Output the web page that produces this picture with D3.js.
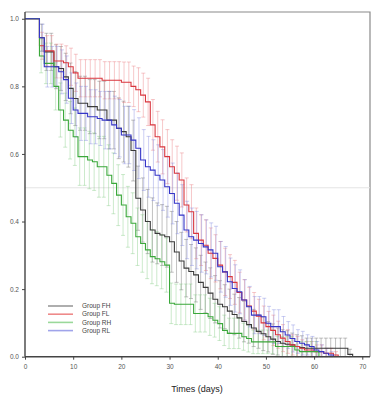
<!DOCTYPE html>
<html>
<head>
<meta charset="utf-8">
<script src="https://cdn.jsdelivr.net/npm/d3@7"></script>
<style>
  body { margin: 0; background: #fff; }
  svg { display: block; font-family: "Liberation Sans", Arial, sans-serif; }
</style>
</head>
<body>
<div id="chart"></div>
<script>
// survival estimates per day (index = day)
const groups = ["Group FH", "Group FL", "Group RH", "Group RL"];

const survFH = [1, 1, 1, 0.944, 0.902, 0.902, 0.858, 0.853, 0.828, 0.794, 0.764, 0.75, 0.75, 0.74, 0.74, 0.73, 0.73, 0.70, 0.70, 0.676,
  0.666, 0.651, 0.61, 0.469, 0.434, 0.40, 0.375, 0.365, 0.36, 0.355, 0.34, 0.31, 0.283, 0.262, 0.252, 0.242, 0.22, 0.205, 0.188, 0.17,
  0.155, 0.148, 0.135, 0.125, 0.115, 0.104, 0.095, 0.085, 0.075, 0.068, 0.059, 0.052, 0.045, 0.04, 0.037, 0.035, 0.03, 0.027, 0.025, 0.025,
  0.025, 0.025, 0.025, 0.025, 0.025, 0.025, 0.025, 0.007, 0];
const survFL = [1, 1, 1, 0.92, 0.905, 0.905, 0.875, 0.875, 0.87, 0.858, 0.84, 0.824, 0.824, 0.824, 0.824, 0.824, 0.818, 0.818, 0.818, 0.818,
  0.812, 0.812, 0.80, 0.79, 0.774, 0.754, 0.686, 0.651, 0.621, 0.592, 0.562, 0.543, 0.523, 0.449, 0.429, 0.365, 0.345, 0.33, 0.306, 0.291,
  0.271, 0.251, 0.237, 0.22, 0.19, 0.168, 0.15, 0.135, 0.12, 0.10, 0.089, 0.078, 0.065, 0.055, 0.045, 0.035, 0.03, 0.025, 0.02, 0.02,
  0.015, 0.015, 0.01, 0.01, 0.005, 0];
const survRH = [1, 1, 1, 0.89, 0.868, 0.868, 0.80, 0.73, 0.70, 0.67, 0.651, 0.592, 0.592, 0.582, 0.577, 0.562, 0.562, 0.537, 0.513, 0.478,
  0.449, 0.414, 0.395, 0.355, 0.335, 0.316, 0.296, 0.29, 0.281, 0.271, 0.158, 0.155, 0.155, 0.155, 0.155, 0.128, 0.128, 0.128, 0.118, 0.108,
  0.098, 0.078, 0.069, 0.069, 0.069, 0.059, 0.054, 0.044, 0.044, 0.044, 0.044, 0.044, 0.03, 0.03, 0.03, 0.03, 0.02, 0.015, 0.015, 0.015,
  0.015, 0];
const survRL = [1, 1, 1, 0.944, 0.858, 0.858, 0.858, 0.843, 0.82, 0.765, 0.73, 0.72, 0.72, 0.71, 0.71, 0.705, 0.70, 0.70, 0.686, 0.676,
  0.656, 0.656, 0.641, 0.617, 0.582, 0.562, 0.552, 0.537, 0.523, 0.503, 0.483, 0.454, 0.419, 0.375, 0.355, 0.345, 0.335, 0.325, 0.316, 0.306,
  0.266, 0.251, 0.222, 0.202, 0.192, 0.168, 0.148, 0.123, 0.123, 0.118, 0.099, 0.089, 0.089, 0.074, 0.064, 0.054, 0.045, 0.04, 0.035, 0.03,
  0.02, 0.015, 0.01, 0.005, 0];

// half width of the error bar at each day
const errFH = [0, 0, 0, 0.04, 0.055, 0.055, 0.065, 0.065, 0.07, 0.075, 0.08, 0.08, 0.08, 0.08, 0.08, 0.085, 0.085, 0.085, 0.085, 0.09,
  0.09, 0.09, 0.09, 0.095, 0.095, 0.095, 0.095, 0.09, 0.09, 0.09, 0.09, 0.09, 0.085, 0.085, 0.08, 0.08, 0.08, 0.075, 0.075, 0.07,
  0.07, 0.065, 0.065, 0.06, 0.06, 0.06, 0.055, 0.055, 0.05, 0.05, 0.045, 0.045, 0.04, 0.04, 0.04, 0.035, 0.035, 0.035, 0.03, 0.03,
  0.03, 0.03, 0.03, 0.03, 0.03, 0.03, 0.03, 0.015, 0];
const errFL = [0, 0, 0, 0.04, 0.045, 0.045, 0.05, 0.05, 0.05, 0.055, 0.055, 0.055, 0.055, 0.055, 0.055, 0.055, 0.055, 0.055, 0.055, 0.055,
  0.06, 0.06, 0.06, 0.065, 0.065, 0.07, 0.075, 0.075, 0.08, 0.08, 0.08, 0.08, 0.08, 0.08, 0.08, 0.075, 0.075, 0.075, 0.075, 0.07,
  0.07, 0.07, 0.065, 0.065, 0.06, 0.06, 0.055, 0.055, 0.05, 0.05, 0.045, 0.045, 0.04, 0.04, 0.035, 0.03, 0.03, 0.025, 0.025, 0.025,
  0.02, 0.02, 0.015, 0.015, 0.01, 0];
const errRH = [0, 0, 0, 0.05, 0.06, 0.06, 0.07, 0.08, 0.08, 0.085, 0.085, 0.085, 0.085, 0.085, 0.085, 0.09, 0.09, 0.09, 0.09, 0.09,
  0.09, 0.09, 0.09, 0.085, 0.085, 0.085, 0.08, 0.08, 0.08, 0.08, 0.06, 0.06, 0.06, 0.06, 0.06, 0.055, 0.055, 0.055, 0.055, 0.05,
  0.05, 0.045, 0.045, 0.045, 0.045, 0.04, 0.04, 0.035, 0.035, 0.035, 0.035, 0.035, 0.03, 0.03, 0.03, 0.03, 0.025, 0.03, 0.03, 0.03,
  0.03, 0];
const errRL = [0, 0, 0, 0.04, 0.06, 0.06, 0.06, 0.065, 0.07, 0.075, 0.08, 0.08, 0.08, 0.08, 0.08, 0.08, 0.085, 0.085, 0.085, 0.085,
  0.085, 0.085, 0.09, 0.09, 0.09, 0.09, 0.09, 0.09, 0.09, 0.09, 0.09, 0.09, 0.09, 0.085, 0.085, 0.085, 0.085, 0.08, 0.08, 0.08,
  0.075, 0.075, 0.07, 0.07, 0.065, 0.06, 0.06, 0.055, 0.055, 0.055, 0.05, 0.05, 0.05, 0.045, 0.04, 0.04, 0.035, 0.035, 0.03, 0.03,
  0.025, 0.02, 0.015, 0.01, 0];

const xTicks = [0, 10, 20, 30, 40, 50, 60, 70];
const yTicks = [0.0, 0.2, 0.4, 0.6, 0.8, 1.0];

const lineColors = ["#3a3a3a", "#d9363e", "#3aa83a", "#3535c8"];
const barColors = ["#666666", "#e8787c", "#80cc80", "#7f86e0"];
const legendColors = ["#9a9a9a", "#ee8a8a", "#9ad89a", "#a0a4ea"];
const barShift = [0.45, 0.55, 0.35, 0.65];

const W = 373, H = 396;
const margin = { left: 25, right: 3, top: 12, bottom: 39 };

let svg = d3.select("#chart")
  .append("svg")
  .attr("width", W)
  .attr("height", H);

let x = d3.scaleLinear().domain([0, 71.6]).range([margin.left, W - margin.right]);
let y = d3.scaleLinear().domain([0, 1.02]).range([H - margin.bottom - 0.3, margin.top]);

//frame on top and right
svg.append("path")
  .attr("d", `M${x(0)},${y(1.02)}H${x(71.6)}V${y(0)}`)
  .attr("fill", "none")
  .attr("stroke", "#8a8a8a")
  .attr("stroke-width", 1.2);

//median reference line
svg.append("line")
  .attr("x1", x(0)).attr("x2", x(71.6))
  .attr("y1", y(0.5)).attr("y2", y(0.5))
  .attr("stroke", "#e4e4e4")
  .attr("stroke-width", 1.2);

let survs = [survFH, survFL, survRH, survRL];
let errs = [errFH, errFL, errRH, errRL];

//error bars first, then the step lines over them
survs.forEach((s, g) => {
  let bars = s.map((v, day) => ({ day: day, v: v, e: errs[g][day] })).filter(d => d.e > 0);
  let gb = svg.append("g")
    .attr("stroke", barColors[g])
    .attr("stroke-opacity", 0.45)
    .attr("stroke-width", 0.9);
  bars.forEach(d => {
    let bx = x(d.day + barShift[g]);
    let top = y(Math.min(1, d.v + d.e));
    let bot = y(Math.max(0, d.v - d.e));
    gb.append("line").attr("x1", bx).attr("x2", bx).attr("y1", top).attr("y2", bot);
    gb.append("line").attr("x1", bx - 2).attr("x2", bx + 2).attr("y1", top).attr("y2", top);
    gb.append("line").attr("x1", bx - 2).attr("x2", bx + 2).attr("y1", bot).attr("y2", bot);
  });
});

let step = d3.line()
  .x((d, i) => x(i))
  .y(d => y(d))
  .curve(d3.curveStepAfter);

survs.forEach((s, g) => {
  svg.append("path")
    .datum(s)
    .attr("d", step)
    .attr("fill", "none")
    .attr("stroke", lineColors[g])
    .attr("stroke-width", 1.1);
});

//axes
let xAxis = svg.append("g")
  .attr("transform", `translate(0,${y(0)})`)
  .call(d3.axisBottom(x).tickValues(xTicks).tickSize(3).tickSizeOuter(0));
let yAxis = svg.append("g")
  .attr("transform", `translate(${x(0)},0)`)
  .call(d3.axisLeft(y).tickValues(yTicks).tickFormat(d3.format(".1f")).tickSize(3).tickSizeOuter(0));

[xAxis, yAxis].forEach(a => {
  a.select(".domain").attr("stroke", "#444").attr("stroke-width", 1.4);
  a.selectAll(".tick line").attr("stroke", "#444");
  a.selectAll(".tick text").attr("fill", "#555").style("font-size", "6.5px");
});
xAxis.selectAll(".tick text").attr("dy", "0.9em");
xAxis.select(".domain").attr("d", `M${x(0)},0H${x(71.6)}`);
yAxis.select(".domain").attr("d", `M0,${y(1.02)}V${y(0)}`);
yAxis.selectAll(".tick text").attr("x", -6);

svg.append("text")
  .attr("x", 197)
  .attr("y", 392)
  .attr("text-anchor", "middle")
  .attr("fill", "#222")
  .style("font-size", "9px")
  .text("Times (days)");

//legend
let legend = svg.append("g");
groups.forEach((name, i) => {
  let ly = 306 + i * 8.2;
  legend.append("line")
    .attr("x1", 48).attr("x2", 73)
    .attr("y1", ly).attr("y2", ly)
    .attr("stroke", legendColors[i])
    .attr("stroke-width", 1.6);
  legend.append("text")
    .attr("x", 82)
    .attr("y", ly)
    .attr("dy", "0.35em")
    .attr("fill", "#444")
    .style("font-size", "6.5px")
    .text(name);
});
</script>
</body>
</html>
